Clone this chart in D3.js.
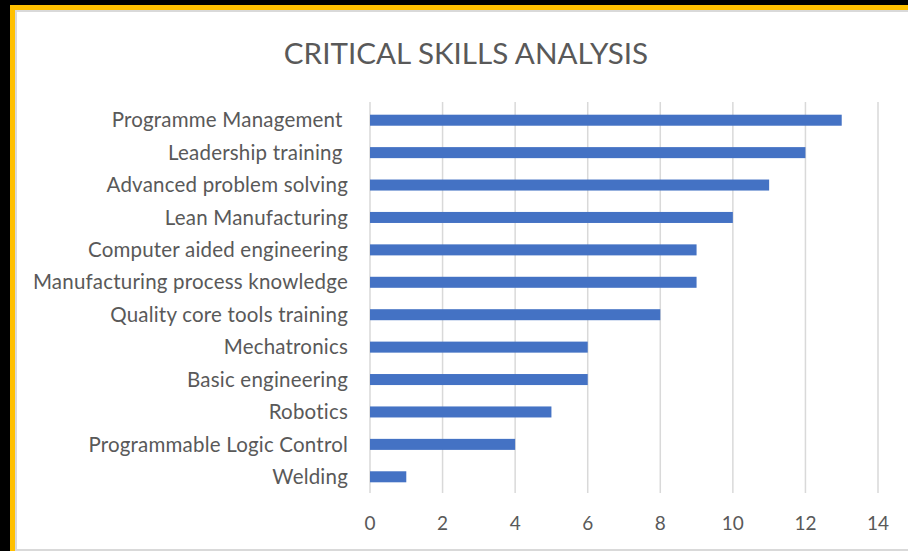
<!DOCTYPE html>
<meta charset="utf-8">
<style>
  body { margin: 0; background: #000; }
  svg { display: block; font-family: Lato, "Open Sans", sans-serif; }
  .cat text { white-space: pre; }
</style>
<body>
<script src="https://cdn.jsdelivr.net/npm/d3@7/dist/d3.min.js"></script>
<script>
  'use strict';

  const skills = ["Programme Management ", "Leadership training ", "Advanced problem solving",
    "Lean Manufacturing", "Computer aided engineering", "Manufacturing process knowledge",
    "Quality core tools training", "Mechatronics", "Basic engineering", "Robotics",
    "Programmable Logic Control", "Welding"];
  const counts = [13, 12, 11, 10, 9, 9, 8, 6, 6, 5, 4, 1];
  const xTicks = [0, 2, 4, 6, 8, 10, 12, 14];
  const title = "CRITICAL SKILLS ANALYSIS";

  const W = 908, H = 551;
  const svg = d3.select("body").append("svg").attr("width", W).attr("height", H);

  // frame: black, yellow edge, thin grey edge, white panel
  svg.append("rect").attr("x", 0).attr("y", 0).attr("width", W).attr("height", H).attr("fill", "#000");
  svg.append("rect").attr("x", 10).attr("y", 5).attr("width", W - 10).attr("height", H - 5).attr("fill", "#ffc000");
  svg.append("rect").attr("x", 15).attr("y", 10).attr("width", W - 15).attr("height", H - 10).attr("fill", "#d9d9d9");
  svg.append("rect").attr("x", 17).attr("y", 12).attr("width", W - 17).attr("height", H - 14).attr("fill", "#fff");

  const x = d3.scaleLinear().domain([0, 14]).range([370, 878]);
  const y = d3.scaleBand().domain(skills).range([104, 493]).paddingInner(0.66).paddingOuter(0.33);

  svg.append("text")
    .attr("x", 466).attr("y", 64)
    .attr("text-anchor", "middle")
    .attr("fill", "#595959")
    .style("font-size", "29.6px")
    .text(title);

  svg.append("g").selectAll("line")
    .data(xTicks).enter().append("line")
    .attr("x1", (d) => x(d)).attr("x2", (d) => x(d))
    .attr("y1", 102).attr("y2", 493)
    .attr("stroke", "#d9d9d9").attr("stroke-width", 1.5);

  svg.append("g").selectAll("rect")
    .data(counts).enter().append("rect")
    .attr("x", x(0))
    .attr("y", (d, i) => y(skills[i]))
    .attr("width", (d) => x(d) - x(0))
    .attr("height", y.bandwidth())
    .attr("fill", "#4472c4");

  svg.append("g").attr("class", "cat").selectAll("text")
    .data(skills).enter().append("text")
    .attr("x", 348)
    .attr("y", (d) => y(d) + y.bandwidth() / 2)
    .attr("dy", "0.35em")
    .attr("text-anchor", "end")
    .attr("fill", "#595959")
    .style("font-size", "20.5px")
    .style("letter-spacing", "0.2px")
    .text((d) => d);

  svg.append("g").selectAll("text")
    .data(xTicks).enter().append("text")
    .attr("x", (d) => x(d))
    .attr("y", 523)
    .attr("dy", "0.35em")
    .attr("text-anchor", "middle")
    .attr("fill", "#595959")
    .style("font-size", "19px")
    .text((d) => d);
</script>
